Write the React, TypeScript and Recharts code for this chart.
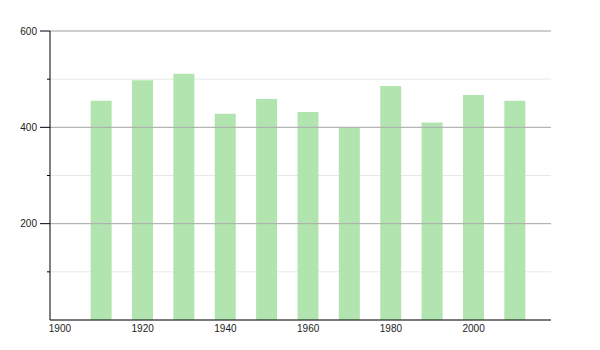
import { BarChart, Bar, XAxis, YAxis, CartesianGrid, ReferenceLine } from 'recharts';

const years = [1910, 1920, 1930, 1940, 1950, 1960, 1970, 1980, 1990, 2000, 2010];
const values = [455, 498, 511, 428, 459, 432, 399, 486, 410, 467, 455];
const xTicks = [1900, 1920, 1940, 1960, 1980, 2000];
const yTicks = [0, 100, 200, 300, 400, 500, 600];
const majorTicks = [200, 400, 600];

const data = years.map((year, i) => ({ year, value: values[i] }));

function YTick(props: any) {
  const { x, y, payload } = props;
  const major = majorTicks.includes(payload.value);
  if (payload.value === 0) return null;
  return (
    <g>
      <line x1={x - (major ? 10 : 3)} y1={y} x2={x} y2={y} stroke="#000" strokeWidth={1} />
      {major && (
        <text x={x - 13} y={y} dy="0.35em" textAnchor="end" fontSize={10} fill="#222">
          {payload.value}
        </text>
      )}
    </g>
  );
}

export default function App() {
  return (
    <div style={{ position: 'absolute', left: 0, top: 0, background: '#fff', fontFamily: '"Liberation Sans", Arial, sans-serif' }}>
      <BarChart
        width={600}
        height={350}
        data={data}
        margin={{ top: 31, right: 49, left: 0, bottom: 10 }}
      >
        <CartesianGrid vertical={false} stroke="#e8e8e8" />
        {majorTicks.map((t) => (
          <ReferenceLine key={t} y={t} stroke="#aaaaaa" />
        ))}
        <XAxis
          dataKey="year"
          type="number"
          domain={[1897.6, 2018.7]}
          allowDataOverflow
          ticks={xTicks}
          tickLine={false}
          tickSize={4}
          tickMargin={1}
          axisLine={{ stroke: '#000' }}
          tick={{ fontSize: 10, fill: '#222' }}
          height={20}
        />
        <YAxis
          type="number"
          domain={[0, 600]}
          ticks={yTicks}
          width={50}
          tickLine={false}
          tickSize={0}
          tickMargin={0}
          axisLine={{ stroke: '#000' }}
          tick={<YTick />}
          interval={0}
        />
        <Bar dataKey="value" fill="#b2e4b0" barSize={21} isAnimationActive={false} />
      </BarChart>
    </div>
  );
}
